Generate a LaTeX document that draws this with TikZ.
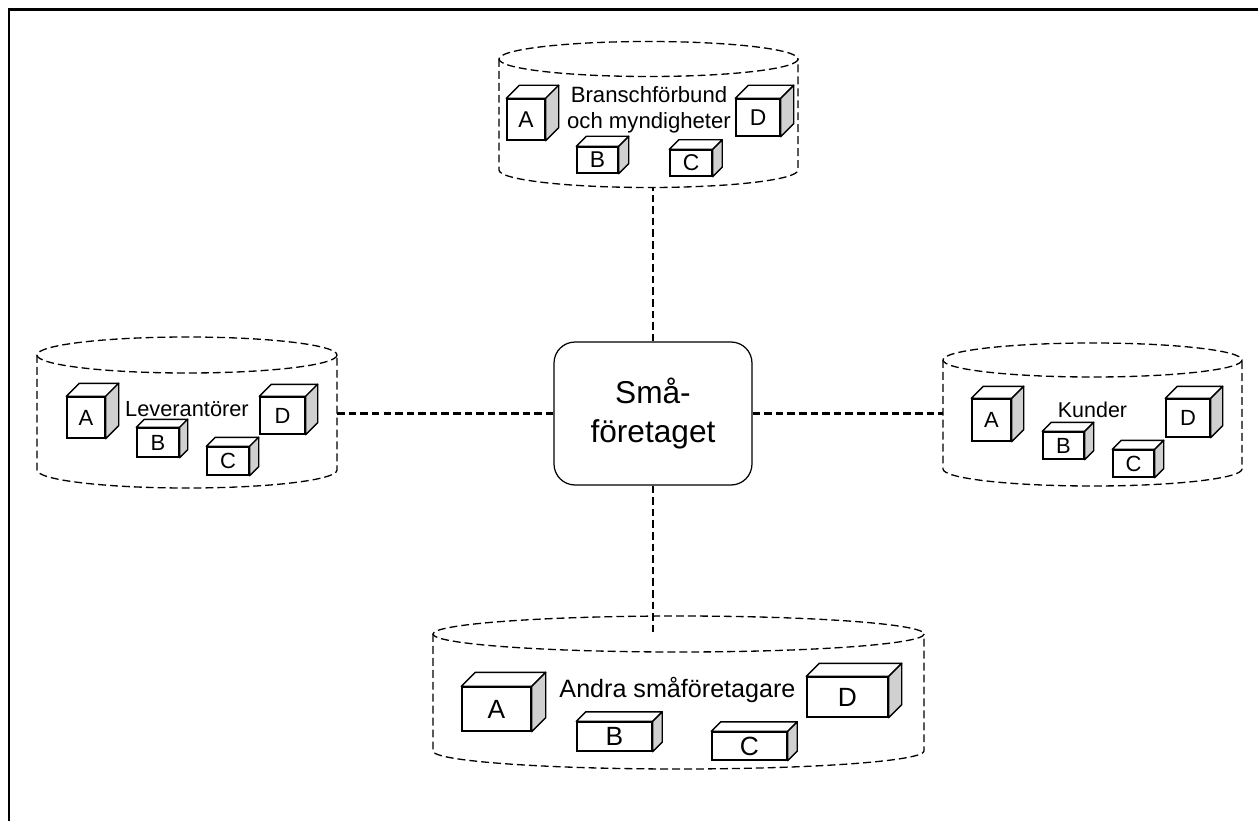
\documentclass[tikz,border=0pt]{standalone}
\usepackage{fontspec}
\setmainfont{Liberation Sans}
\definecolor{sideface}{HTML}{D0D0D0}
\tikzset{
  storeline/.style={line width=0.75pt, dash pattern=on 4.5pt off 2.3pt},
  link/.style={line width=1.4pt, dash pattern=on 4.3pt off 2.3pt},
  hub/.style={draw, rounded corners=0.42cm, minimum width=3.96cm, minimum height=2.86cm,
              align=center, line width=0.7pt, font=\fontsize{18}{22.7}\selectfont},
  cubefront/.style 2 args={draw, fill=white, line width=0.8pt, inner sep=0pt,
              minimum width=#1*0.02cm, minimum height=#2*0.02cm},
  cubeface/.style={draw, line width=0.8pt, line join=round},
  storelabel/.style={align=center, inner sep=0pt},
}
% dashed cylinder: name, centre x, top y, bottom y, x radius, y radius
\newcommand{\datastore}[6]{%
  \draw[storeline] (#2-#5,#3) -- (#2-#5,#4)
    arc[start angle=180, end angle=0, x radius=#5, y radius=#6] -- (#2+#5,#3);
  \draw[storeline] (#2,#3) ellipse[x radius=#5, y radius=#6];
  \coordinate (#1-top) at (#2,#3);
  \coordinate (#1-bot) at (#2,#4+#6);
  \coordinate (#1-w) at (#2-#5,{(#3+#4)/2});
  \coordinate (#1-e) at (#2+#5,{(#3+#4)/2});
}
% top and side faces behind a front node
\newcommand{\cubedepth}[2]{%
  \filldraw[cubeface, fill=white] (#1.north west) -- ++(#2,-#2)
    -- ([shift={(#2,-#2)}]#1.north east) -- (#1.north east) -- cycle;
  \filldraw[cubeface, fill=sideface] (#1.north east) -- ++(#2,-#2)
    -- ([shift={(#2,-#2)}]#1.south east) -- (#1.south east) -- cycle;
}

\begin{document}
\begin{tikzpicture}[x=0.02cm, y=-0.02cm]
    \useasboundingbox (0,0) rectangle (1258,821);
    \draw[line width=1.6pt] (9,821) -- (9,9.5) -- (1258,9.5);

    \datastore{bransch}{648.5}{59}{170}{149.5}{17.5}
    \datastore{lev}{187}{355}{470}{150}{18}
    \datastore{kund}{1092.5}{360}{469}{149.5}{17}
    \datastore{andra}{678.5}{634}{751}{245.5}{18}

    \node[hub] (hub) at (653,413.5) {Små-\\företaget};

    \node[storelabel, font=\fontsize{12.6}{14.7}\selectfont] (branschtxt) at (649,110) {Branschförbund\\och myndigheter};
    \node[storelabel, font=\fontsize{12.4}{15}\selectfont] (levtxt) at (187,409) {Leverantörer};
    \node[storelabel, font=\fontsize{12.2}{15}\selectfont] (kundtxt) at (1092.5,410) {Kunder};
    \node[storelabel, font=\fontsize{14.3}{17}\selectfont] (andratxt) at (677.5,690) {Andra småföretagare};

    % branschförbund
    \node[cubefront={38}{41}, font=\fontsize{13}{15}\selectfont] (tA) at (526,119.5) {A};
    \node[cubefront={44}{37}, font=\fontsize{13}{15}\selectfont] (tD) at (758,117.5) {D};
    \node[cubefront={41}{26}, font=\fontsize{13}{15}\selectfont] (tB) at (597.5,160) {B};
    \node[cubefront={42}{26}, font=\fontsize{13}{15}\selectfont] (tC) at (691,163) {C};
    % leverantörer
    \node[cubefront={38}{41}, font=\fontsize{12.5}{15}\selectfont] (lA) at (86,417.5) {A};
    \node[cubefront={45}{37}, font=\fontsize{12.5}{15}\selectfont] (lD) at (282.5,415.5) {D};
    \node[cubefront={42}{29}, font=\fontsize{12.5}{15}\selectfont] (lB) at (158,442.5) {B};
    \node[cubefront={42}{28}, font=\fontsize{12.5}{15}\selectfont] (lC) at (228,461) {C};
    % kunder
    \node[cubefront={39}{42}, font=\fontsize{12.5}{15}\selectfont] (rA) at (991.5,420) {A};
    \node[cubefront={44}{38}, font=\fontsize{12.5}{15}\selectfont] (rD) at (1188,418) {D};
    \node[cubefront={41}{27}, font=\fontsize{12.5}{15}\selectfont] (rB) at (1063.5,445.5) {B};
    \node[cubefront={41}{27}, font=\fontsize{12.5}{15}\selectfont] (rC) at (1133.5,463.5) {C};
    % andra småföretagare
    \node[cubefront={69}{44}, font=\fontsize{15}{17}\selectfont] (sA) at (496.5,709) {A};
    \node[cubefront={81}{40}, font=\fontsize{15}{17}\selectfont] (sD) at (847.5,697) {D};
    \node[cubefront={75}{29}, font=\fontsize{15}{17}\selectfont] (sB) at (614.5,736.5) {B};
    \node[cubefront={75}{28}, font=\fontsize{15}{17}\selectfont] (sC) at (749.5,746) {C};

    \foreach \c/\d in {tA/13, tD/13, tB/10, tC/9.5, lA/13, lD/12, lB/8, lC/9,
                       rA/12, rD/12, rB/9, rC/9, sA/14, sD/13, sB/9.5, sC/9.5}
      \cubedepth{\c}{\d};

    \draw[link] (hub.north) -- (hub.north |- bransch-bot);
    \draw[link] (hub.west) -- (hub.west -| lev-e);
    \draw[link] (hub.east) -- (hub.east -| kund-w);
    \draw[link] (hub.south) -- (hub.south |- andra-top);
\end{tikzpicture}
\end{document}
